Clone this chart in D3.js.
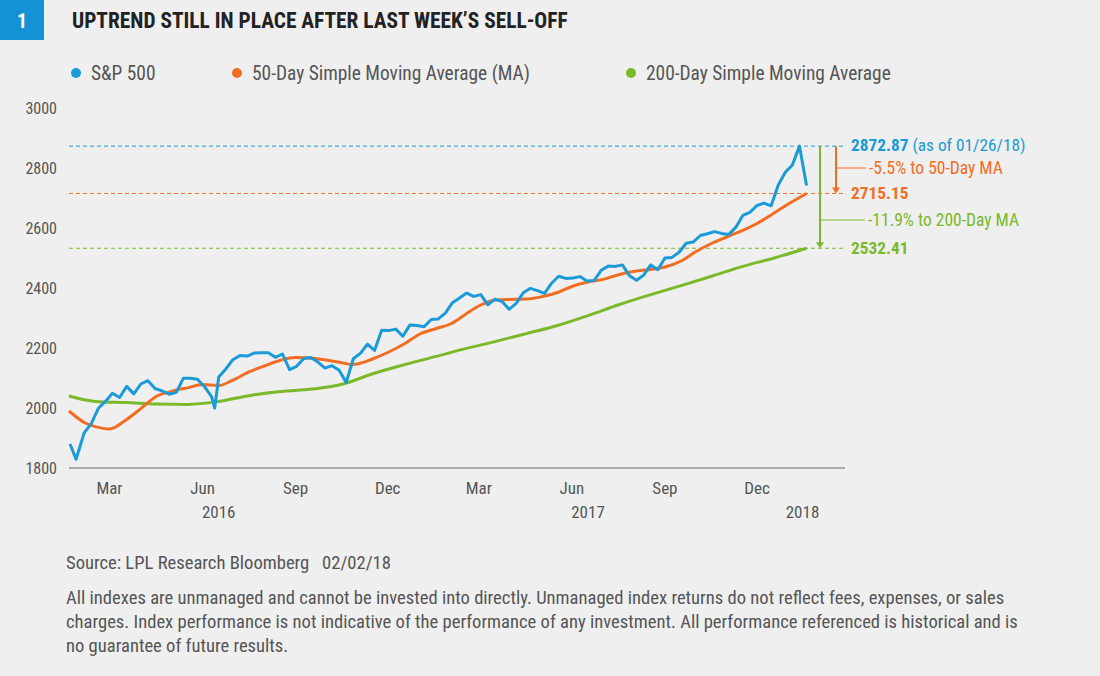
<!DOCTYPE html>
<html><head><meta charset="utf-8">
<script src="https://cdn.jsdelivr.net/npm/d3@7"></script>
<style>body{margin:0;background:#efefef;}svg{display:block;font-family:"Liberation Sans Narrow","Roboto Condensed","Liberation Sans",sans-serif;}text{white-space:pre;}</style>
</head><body><svg id="c" width="1100" height="676"></svg>
<script>
const spxDates=["2016-02-05","2016-02-11","2016-02-19","2016-02-26","2016-03-04","2016-03-11","2016-03-18","2016-03-25","2016-04-01","2016-04-08","2016-04-15","2016-04-22","2016-04-29","2016-05-06","2016-05-13","2016-05-20","2016-05-27","2016-06-03","2016-06-10","2016-06-17","2016-06-24","2016-06-27","2016-07-01","2016-07-08","2016-07-15","2016-07-22","2016-07-29","2016-08-05","2016-08-12","2016-08-19","2016-08-26","2016-09-02","2016-09-09","2016-09-16","2016-09-23","2016-09-30","2016-10-07","2016-10-14","2016-10-21","2016-10-28","2016-11-04","2016-11-11","2016-11-18","2016-11-25","2016-12-02","2016-12-09","2016-12-16","2016-12-23","2016-12-30","2017-01-06","2017-01-13","2017-01-20","2017-01-27","2017-02-03","2017-02-10","2017-02-17","2017-02-24","2017-03-03","2017-03-10","2017-03-17","2017-03-24","2017-03-31","2017-04-07","2017-04-14","2017-04-21","2017-04-28","2017-05-05","2017-05-12","2017-05-19","2017-05-26","2017-06-02","2017-06-09","2017-06-16","2017-06-23","2017-06-30","2017-07-07","2017-07-14","2017-07-21","2017-07-28","2017-08-04","2017-08-11","2017-08-18","2017-08-25","2017-09-01","2017-09-08","2017-09-15","2017-09-22","2017-09-29","2017-10-06","2017-10-13","2017-10-20","2017-10-27","2017-11-03","2017-11-10","2017-11-17","2017-11-24","2017-12-01","2017-12-08","2017-12-15","2017-12-22","2017-12-29","2018-01-05","2018-01-12","2018-01-19","2018-01-26","2018-02-02"];
const spxValues=[1880,1829,1917,1948,1999,2022,2049,2035,2072,2047,2080,2091,2065,2057,2046,2052,2099,2099,2096,2071,2037,2000,2103,2130,2161,2175,2173,2183,2184,2184,2169,2180,2128,2139,2165,2168,2153,2133,2141,2126,2085,2164,2182,2213,2192,2259,2258,2263,2239,2277,2275,2271,2295,2297,2316,2351,2367,2383,2372,2378,2344,2363,2355,2329,2349,2384,2399,2391,2382,2416,2439,2432,2433,2438,2423,2425,2459,2473,2472,2477,2441,2426,2443,2477,2461,2500,2502,2519,2549,2553,2575,2581,2588,2582,2578,2602,2642,2652,2675,2683,2674,2743,2786,2810,2873,2742];
const ma50Dates=["2016-02-04","2016-02-20","2016-03-01","2016-03-15","2016-04-01","2016-04-15","2016-05-01","2016-05-15","2016-06-01","2016-06-15","2016-07-01","2016-07-15","2016-08-01","2016-08-15","2016-09-01","2016-09-15","2016-10-01","2016-10-15","2016-11-01","2016-11-10","2016-12-01","2016-12-15","2017-01-01","2017-01-15","2017-02-01","2017-02-15","2017-03-01","2017-03-15","2017-04-01","2017-04-15","2017-05-01","2017-05-15","2017-06-01","2017-06-15","2017-07-01","2017-07-15","2017-08-01","2017-08-15","2017-09-01","2017-09-15","2017-10-01","2017-10-15","2017-11-01","2017-11-15","2017-12-01","2017-12-15","2018-01-01","2018-01-15","2018-02-02"];
const ma50Values=[1990,1950,1938,1930,1962,1998,2040,2055,2068,2078,2075,2093,2122,2140,2160,2168,2166,2160,2150,2145,2165,2185,2215,2245,2265,2280,2310,2340,2360,2362,2363,2370,2385,2405,2420,2428,2445,2455,2462,2470,2490,2520,2550,2570,2592,2615,2650,2680,2715.15];
const ma200Dates=["2016-02-04","2016-03-01","2016-04-01","2016-05-01","2016-06-01","2016-07-01","2016-08-01","2016-09-01","2016-10-01","2016-11-01","2016-12-01","2017-01-01","2017-02-01","2017-03-01","2017-04-01","2017-05-01","2017-06-01","2017-07-01","2017-08-01","2017-09-01","2017-10-01","2017-11-01","2017-12-01","2018-01-01","2018-02-02"];
const ma200Values=[2040,2022,2018,2013,2012,2022,2042,2055,2063,2080,2115,2145,2172,2197,2222,2248,2275,2308,2345,2378,2408,2440,2472,2500,2532.41];
const yTicks=[1800,2000,2200,2400,2600,2800,3000];
const monthTicks=[["2016-03-15","Mar"],["2016-06-15","Jun"],["2016-09-15","Sep"],["2016-12-15","Dec"],["2017-03-15","Mar"],["2017-06-15","Jun"],["2017-09-15","Sep"],["2017-12-15","Dec"]];
const yearTicks=[["2016-07-01","2016"],["2017-07-01","2017"],["2018-01-29","2018"]];
const refValues=[2872.87,2715.15,2532.41];

const C={blue:"#1a9ad6",orange:"#f26d21",green:"#7ab929",txt:"#555"};
const P=d3.timeParse("%Y-%m-%d");
const svg=d3.select("#c");
const x=d3.scaleTime().domain([P("2016-02-04"),P("2018-03-12")]).range([69,845]);
const y=d3.scaleLinear().domain([1800,3000]).range([468,108]);

svg.append("rect").attr("x",0).attr("y",0).attr("width",44).attr("height",40).attr("fill","#1592d5");
svg.append("text").attr("x",22).attr("y",28).attr("text-anchor","middle").attr("fill","#fff").attr("font-size",20).attr("font-weight","bold").text("1");
svg.append("text").attr("x",72).attr("y",28).attr("fill","#222").attr("font-size",21.4).attr("font-weight","bold").text("UPTREND STILL IN PLACE AFTER LAST WEEK’S SELL-OFF");

[[72,C.blue,"S&P 500"],[233,C.orange,"50-Day Simple Moving Average (MA)"],[627,C.green,"200-Day Simple Moving Average"]].forEach(([lx,c,t])=>{
 svg.append("circle").attr("cx",lx+4).attr("cy",73).attr("r",5).attr("fill",c);
 svg.append("text").attr("x",lx+19).attr("y",80).attr("fill",C.txt).attr("font-size",19.4).text(t);
});

yTicks.forEach(v=>svg.append("text").attr("x",57).attr("y",y(v)+6).attr("text-anchor","end").attr("fill",C.txt).attr("font-size",16).text(v));
svg.append("line").attr("x1",69).attr("x2",845).attr("y1",468).attr("y2",468).attr("stroke","#666").attr("stroke-width",1);
monthTicks.forEach(([d,t])=>svg.append("text").attr("x",x(P(d))).attr("y",494).attr("text-anchor","middle").attr("fill",C.txt).attr("font-size",17).text(t));
yearTicks.forEach(([d,t])=>svg.append("text").attr("x",x(P(d))).attr("y",518).attr("text-anchor","middle").attr("fill",C.txt).attr("font-size",17).text(t));

const refC=[C.blue,C.orange,C.green];
refValues.forEach((v,i)=>svg.append("line").attr("x1",69).attr("x2",843).attr("y1",y(v)).attr("y2",y(v)).attr("stroke",refC[i]).attr("stroke-width",1).attr("stroke-dasharray","4,3"));

const line=d3.line().x(d=>x(d[0])).y(d=>y(d[1]));
const lineS=d3.line().x(d=>x(d[0])).y(d=>y(d[1])).curve(d3.curveMonotoneX);
svg.append("path").datum(ma200Dates.map((d,i)=>[P(d),ma200Values[i]])).attr("d",lineS).attr("fill","none").attr("stroke",C.green).attr("stroke-width",3);
svg.append("path").datum(ma50Dates.map((d,i)=>[P(d),ma50Values[i]])).attr("d",lineS).attr("fill","none").attr("stroke",C.orange).attr("stroke-width",3);
svg.append("path").datum(spxDates.map((d,i)=>[P(d),spxValues[i]])).attr("d",line).attr("fill","none").attr("stroke",C.blue).attr("stroke-width",3).attr("stroke-linejoin","round");

svg.append("line").attr("x1",836).attr("x2",836).attr("y1",y(refValues[0])).attr("y2",y(refValues[1])-5).attr("stroke",C.orange).attr("stroke-width",2);
svg.append("path").attr("d",`M832,${y(refValues[1])-6}L840,${y(refValues[1])-6}L836,${y(refValues[1])}Z`).attr("fill",C.orange);
svg.append("line").attr("x1",820).attr("x2",820).attr("y1",y(refValues[0])).attr("y2",y(refValues[2])-5).attr("stroke",C.green).attr("stroke-width",2);
svg.append("path").attr("d",`M816,${y(refValues[2])-6}L824,${y(refValues[2])-6}L820,${y(refValues[2])}Z`).attr("fill",C.green);
svg.append("line").attr("x1",836).attr("x2",866).attr("y1",168).attr("y2",168).attr("stroke",C.orange).attr("stroke-width",1);
svg.append("line").attr("x1",821).attr("x2",865).attr("y1",220).attr("y2",220).attr("stroke",C.green).attr("stroke-width",1);
svg.append("text").attr("x",869).attr("y",174).attr("fill",C.orange).attr("font-size",17.5).text("-5.5% to 50-Day MA");
svg.append("text").attr("x",868).attr("y",226).attr("fill",C.green).attr("font-size",17.5).text("-11.9% to 200-Day MA");
const t1=svg.append("text").attr("x",851).attr("y",151).attr("fill",C.blue).attr("font-size",17.3);
t1.append("tspan").attr("font-weight","bold").text("2872.87");
t1.append("tspan").text(" (as of 01/26/18)");
svg.append("text").attr("x",851).attr("y",199).attr("fill",C.orange).attr("font-size",17.3).attr("font-weight","bold").text("2715.15");
svg.append("text").attr("x",851).attr("y",254).attr("fill",C.green).attr("font-size",17.3).attr("font-weight","bold").text("2532.41");

const foot=[[569,"Source: LPL Research Bloomberg   02/02/18"],[604,"All indexes are unmanaged and cannot be invested into directly. Unmanaged index returns do not reflect fees, expenses, or sales"],[628,"charges. Index performance is not indicative of the performance of any investment. All performance referenced is historical and is"],[652,"no guarantee of future results."]];
foot.forEach(([fy,t])=>svg.append("text").attr("x",66).attr("y",fy).attr("fill",C.txt).attr("font-size",18.6).text(t));
</script></body></html>
